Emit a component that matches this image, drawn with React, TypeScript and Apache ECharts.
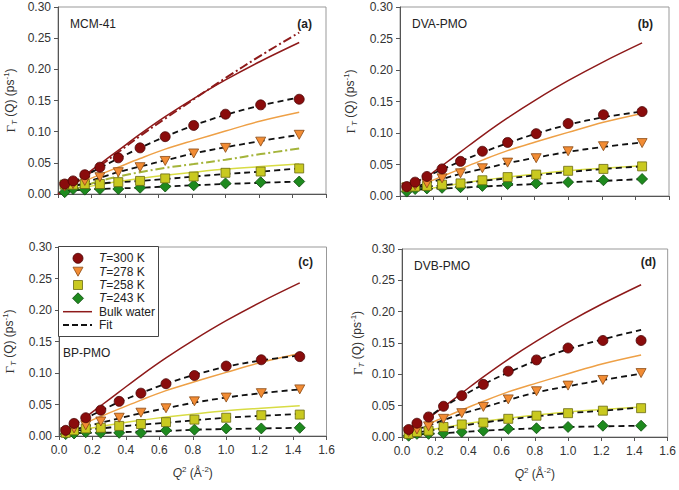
import React, { useEffect, useRef } from "react";
import * as echarts from "echarts";

// Q^2 values (Å^-2)
const Q2 = [0.04, 0.09, 0.16, 0.25, 0.36, 0.49, 0.64, 0.81, 1.0, 1.21, 1.44];
const bulkQ2 = [0.16, 0.25, 0.36, 0.49, 0.64, 0.81, 1.0, 1.21, 1.44];

// Bulk water reference curves (same in all panels)
const bulkWater300 = [0.03, 0.048, 0.07, 0.096, 0.124, 0.153, 0.183, 0.213, 0.243];
const bulkWater278 = [0.021, 0.031, 0.043, 0.057, 0.072, 0.086, 0.101, 0.117, 0.131];
const bulkWater258 = [0.011, 0.015, 0.02, 0.025, 0.03, 0.035, 0.04, 0.044, 0.048];

// Extra dash-dot curves in panel (a)
const mcmDashRedQ2 = [0.0, 0.04, 0.09, 0.16, 0.25, 0.36, 0.49, 0.64, 0.81, 1.0, 1.21, 1.44];
const mcmDashRed = [0.0, 0.006, 0.015, 0.028, 0.045, 0.067, 0.093, 0.121, 0.152, 0.186, 0.222, 0.259];
const mcmDashOliveQ2 = [0.09, 0.16, 0.25, 0.36, 0.49, 0.64, 0.81, 1.0, 1.21, 1.44];
const mcmDashOlive = [0.007, 0.013, 0.021, 0.028, 0.035, 0.042, 0.048, 0.055, 0.064, 0.073];

// Panel (a) MCM-41
const a300 = [0.016, 0.021, 0.031, 0.043, 0.058, 0.074, 0.092, 0.11, 0.128, 0.143, 0.152];
const a278 = [0.012, 0.016, 0.021, 0.027, 0.035, 0.043, 0.053, 0.065, 0.074, 0.084, 0.095];
const a258 = [0.015, 0.015, 0.016, 0.016, 0.019, 0.021, 0.025, 0.028, 0.034, 0.036, 0.041];
const a243 = [0.003, 0.008, 0.007, 0.008, 0.008, 0.01, 0.012, 0.014, 0.017, 0.019, 0.02];
const aFit300 = [0.012, 0.019, 0.029, 0.042, 0.057, 0.074, 0.092, 0.11, 0.127, 0.142, 0.155];
const aFit278 = [0.008, 0.012, 0.018, 0.026, 0.035, 0.044, 0.054, 0.065, 0.075, 0.085, 0.095];
const aFit258 = [0.013, 0.014, 0.015, 0.017, 0.019, 0.021, 0.024, 0.028, 0.032, 0.036, 0.041];
const aFit243 = [0.004, 0.006, 0.007, 0.008, 0.009, 0.01, 0.012, 0.014, 0.016, 0.018, 0.02];

// Panel (b) DVA-PMO
const b300 = [0.015, 0.022, 0.031, 0.043, 0.055, 0.071, 0.085, 0.099, 0.115, 0.129, 0.134];
const b278 = [0.013, 0.017, 0.02, 0.028, 0.036, 0.044, 0.053, 0.06, 0.071, 0.079, 0.084];
const b258 = [0.014, 0.015, 0.016, 0.018, 0.02, 0.025, 0.03, 0.034, 0.04, 0.043, 0.047];
const b243 = [0.007, 0.011, 0.012, 0.013, 0.014, 0.016, 0.019, 0.02, 0.022, 0.025, 0.027];
const bFit300 = [0.014, 0.021, 0.031, 0.042, 0.055, 0.069, 0.084, 0.099, 0.113, 0.125, 0.134];
const bFit278 = [0.012, 0.015, 0.02, 0.027, 0.035, 0.043, 0.052, 0.061, 0.07, 0.078, 0.085];
const bFit258 = [0.013, 0.014, 0.015, 0.017, 0.02, 0.024, 0.028, 0.033, 0.038, 0.043, 0.047];
const bFit243 = [0.008, 0.01, 0.011, 0.012, 0.013, 0.015, 0.017, 0.019, 0.022, 0.024, 0.027];

// Panel (c) BP-PMO
const c300 = [0.009, 0.02, 0.029, 0.041, 0.055, 0.068, 0.083, 0.096, 0.111, 0.121, 0.126];
const c278 = [0.006, 0.012, 0.017, 0.023, 0.029, 0.037, 0.044, 0.055, 0.061, 0.068, 0.074];
const c258 = [0.005, 0.009, 0.012, 0.013, 0.016, 0.019, 0.022, 0.026, 0.029, 0.033, 0.034];
const c243 = [0.003, 0.004, 0.006, 0.005, 0.005, 0.005, 0.009, 0.01, 0.012, 0.012, 0.013];
const cFit300 = [0.009, 0.018, 0.028, 0.04, 0.054, 0.068, 0.083, 0.097, 0.11, 0.12, 0.128];
const cFit278 = [0.006, 0.01, 0.015, 0.021, 0.028, 0.036, 0.044, 0.053, 0.061, 0.068, 0.074];
const cFit258 = [0.005, 0.008, 0.01, 0.012, 0.015, 0.018, 0.021, 0.025, 0.029, 0.032, 0.035];
const cFit243 = [0.003, 0.004, 0.005, 0.005, 0.006, 0.007, 0.008, 0.01, 0.011, 0.012, 0.013];

// Panel (d) DVB-PMO
const d300 = [0.012, 0.022, 0.032, 0.049, 0.066, 0.084, 0.105, 0.123, 0.142, 0.154, 0.154];
const d278 = [0.008, 0.012, 0.017, 0.029, 0.038, 0.048, 0.06, 0.073, 0.082, 0.091, 0.102];
const d258 = [0.005, 0.008, 0.01, 0.016, 0.02, 0.023, 0.029, 0.034, 0.038, 0.042, 0.046];
const d243 = [0.002, 0.005, 0.005, 0.006, 0.008, 0.01, 0.013, 0.014, 0.016, 0.018, 0.018];
const dFit300 = [0.01, 0.02, 0.032, 0.048, 0.065, 0.084, 0.103, 0.122, 0.14, 0.156, 0.171];
const dFit278 = [0.007, 0.012, 0.018, 0.027, 0.037, 0.047, 0.059, 0.071, 0.081, 0.091, 0.101];
const dFit258 = [0.005, 0.007, 0.01, 0.014, 0.018, 0.023, 0.028, 0.033, 0.038, 0.042, 0.047];
const dFit243 = [0.002, 0.004, 0.005, 0.006, 0.008, 0.01, 0.012, 0.014, 0.016, 0.017, 0.018];

const panelNames = ["MCM-41", "DVA-PMO", "BP-PMO", "DVB-PMO"];
const panelTags = ["(a)", "(b)", "(c)", "(d)"];
const tempLabels = ["T=300 K", "T=278 K", "T=258 K", "T=243 K"];
const legendLabels = [...tempLabels, "Bulk water", "Fit"];

const panelData = [
  [a300, a278, a258, a243],
  [b300, b278, b258, b243],
  [c300, c278, c258, c243],
  [d300, d278, d258, d243],
];
const panelFits = [
  [aFit300, aFit278, aFit258, aFit243],
  [bFit300, bFit278, bFit258, bFit243],
  [cFit300, cFit278, cFit258, cFit243],
  [dFit300, dFit278, dFit258, dFit243],
];

const FONT = "Liberation Sans, Arial, sans-serif";
const zip = (xs: number[], ys: number[]) => ys.map((y, i) => [xs[i], y]);

const COL = {
  c300: "#8a0c0c",
  b300: "#4a0505",
  c278: "#f28c34",
  b278: "#8a4a14",
  c258: "#c9c920",
  b258: "#6a6a12",
  c243: "#1e8a1e",
  b243: "#0c4a0c",
  bulk300: "#8e1a1a",
  bulk278: "#eea046",
  bulk258: "#d8dc44",
  olive: "#a4b43a",
};

const markerStyles = [
  { symbol: "circle", size: 10, color: COL.c300, border: COL.b300 },
  { symbol: "path://M0,0 L10,0 L5,9 Z", size: [10, 9], color: COL.c278, border: COL.b278 },
  { symbol: "rect", size: 9, color: COL.c258, border: COL.b258 },
  { symbol: "diamond", size: 11, color: COL.c243, border: COL.b243 },
];

const grids = [
  { left: 58, top: 7, width: 268, height: 187 },
  { left: 400, top: 7, width: 269, height: 189 },
  { left: 58.5, top: 247, width: 268, height: 189 },
  { left: 402, top: 249, width: 268, height: 188 },
];
const yNameGaps = [40, 42, 42, 37];

function buildOption() {
  const xAxis: any[] = [];
  const yAxis: any[] = [];
  const series: any[] = [];
  const axisRich = {
    n: { fontSize: 12, lineHeight: 16, verticalAlign: "middle", color: "#333", fontFamily: FONT },
    i: { fontSize: 12, lineHeight: 16, fontStyle: "italic", color: "#333", fontFamily: FONT },
    g: { fontSize: 13, lineHeight: 16, color: "#333", fontFamily: "Liberation Serif, serif" },
    sub: { fontSize: 8, verticalAlign: "bottom", color: "#333", fontFamily: FONT, fontStyle: "italic" },
    sup: { fontSize: 8, verticalAlign: "top", color: "#333", fontFamily: FONT },
  };
  grids.forEach((g, p) => {
    const bottomRow = p >= 2;
    xAxis.push({
      type: "value",
      gridIndex: p,
      min: 0,
      max: 1.6,
      interval: 0.2,
      axisLine: { show: true, onZero: false, lineStyle: { color: "#555", width: 1 } },
      axisTick: { show: true, inside: false, length: 4, lineStyle: { color: "#555" } },
      splitLine: { show: false },
      axisLabel: {
        show: bottomRow,
        fontSize: 12,
        fontFamily: FONT,
        color: "#333",
        margin: 8,
        formatter: (v: number) => v.toFixed(1),
      },
      name: bottomRow ? "{i|Q}{sup|2}{n| (Å}{sup|-2}{n|)}" : "",
      nameLocation: "middle",
      nameGap: 29,
      nameTextStyle: { rich: axisRich },
    });
    yAxis.push({
      type: "value",
      gridIndex: p,
      min: 0,
      max: 0.3,
      interval: 0.05,
      axisLine: { show: true, onZero: false, lineStyle: { color: "#555", width: 1 } },
      axisTick: { show: true, inside: false, length: 4, lineStyle: { color: "#555" } },
      splitLine: { show: false },
      axisLabel: {
        fontSize: 12,
        fontFamily: FONT,
        color: "#333",
        margin: 7,
        formatter: (v: number) => v.toFixed(2),
      },
      name: "{g|Γ}{sub|T}{n| (Q) (ps}{sup|-1}{n|)}",
      nameLocation: "middle",
      nameRotate: 90,
      nameGap: yNameGaps[p],
      nameTextStyle: { rich: axisRich },
    });

    const lineBase = {
      type: "line",
      xAxisIndex: p,
      yAxisIndex: p,
      smooth: 0.35,
      symbol: "none",
      silent: true,
    };
    series.push({ ...lineBase, name: `Bulk water ${p}`, data: zip(bulkQ2, bulkWater300), lineStyle: { color: COL.bulk300, width: 1.5 }, z: 2 });
    series.push({ ...lineBase, name: `bulk278-${p}`, data: zip(bulkQ2, bulkWater278), lineStyle: { color: COL.bulk278, width: 1.5 }, z: 2 });
    series.push({ ...lineBase, name: `bulk258-${p}`, data: zip(bulkQ2, bulkWater258), lineStyle: { color: COL.bulk258, width: 1.5 }, z: 2 });
    if (p === 0) {
      series.push({ ...lineBase, name: "mcm-dashdot-red", data: zip(mcmDashRedQ2, mcmDashRed), lineStyle: { color: COL.bulk300, width: 2, type: [9, 3, 2, 3] }, z: 2 });
      series.push({ ...lineBase, name: "mcm-dashdot-olive", data: zip(mcmDashOliveQ2, mcmDashOlive), lineStyle: { color: COL.olive, width: 2, type: [9, 3, 2, 3] }, z: 2 });
    }
    panelFits[p].forEach((fit, k) => {
      series.push({ ...lineBase, name: `fit-${p}-${k}`, data: zip(Q2, fit), lineStyle: { color: "#111", width: 1.8, type: [6, 4] }, z: 3 });
    });
    panelData[p].forEach((vals, k) => {
      const m = markerStyles[k];
      series.push({
        type: "scatter",
        name: `pts-${p}-${k}`,
        xAxisIndex: p,
        yAxisIndex: p,
        data: zip(Q2, vals),
        symbol: m.symbol,
        symbolSize: m.size,
        itemStyle: { color: m.color, borderColor: m.border, borderWidth: 0.8, opacity: 1 },
        z: 4 + (3 - k),
      });
    });
  });

  const labelPos = [
    { name: [70, 24], tag: [312, 24] },
    { name: [412, 24], tag: [653, 24] },
    { name: [63, 353], tag: [313, 262] },
    { name: [414, 266], tag: [656, 262] },
  ];
  const graphic: any[] = [];
  labelPos.forEach((lp, p) => {
    graphic.push({
      type: "text", x: lp.name[0], y: lp.name[1], z: 20,
      style: { text: panelNames[p], fill: "#222", font: `12px ${FONT}`, align: "left", verticalAlign: "middle" },
    });
    graphic.push({
      type: "text", x: lp.tag[0], y: lp.tag[1], z: 20,
      style: { text: panelTags[p], fill: "#222", font: `bold 12px ${FONT}`, align: "right", verticalAlign: "middle" },
    });
  });

  // Legend box (panel c)
  graphic.push({
    type: "rect", z: 30,
    shape: { x: 58.5, y: 246.5, width: 100, height: 90 },
    style: { fill: "#fff", stroke: "#444", lineWidth: 1 },
  });
  const rowY = [258.3, 271.7, 285, 298.3, 311.7, 325];
  const cx = 78;
  graphic.push({ type: "circle", z: 31, shape: { cx, cy: rowY[0], r: 5 }, style: { fill: COL.c300, stroke: COL.b300, lineWidth: 0.8 } });
  graphic.push({
    type: "polygon", z: 31,
    shape: { points: [[cx - 5, rowY[1] - 4.5], [cx + 5, rowY[1] - 4.5], [cx, rowY[1] + 4.5]] },
    style: { fill: COL.c278, stroke: COL.b278, lineWidth: 0.8 },
  });
  graphic.push({ type: "rect", z: 31, shape: { x: cx - 4.5, y: rowY[2] - 4.5, width: 9, height: 9 }, style: { fill: COL.c258, stroke: COL.b258, lineWidth: 0.8 } });
  graphic.push({
    type: "polygon", z: 31,
    shape: { points: [[cx, rowY[3] - 5.5], [cx + 5.5, rowY[3]], [cx, rowY[3] + 5.5], [cx - 5.5, rowY[3]]] },
    style: { fill: COL.c243, stroke: COL.b243, lineWidth: 0.8 },
  });
  graphic.push({ type: "line", z: 31, shape: { x1: 63, y1: rowY[4], x2: 92, y2: rowY[4] }, style: { stroke: COL.bulk300, lineWidth: 1.5 } });
  graphic.push({ type: "line", z: 31, shape: { x1: 63, y1: rowY[5], x2: 92, y2: rowY[5] }, style: { stroke: "#111", lineWidth: 1.8, lineDash: [6, 3] } });
  legendLabels.forEach((lab, i) => {
    const isT = lab.startsWith("T=");
    graphic.push({
      type: "text", z: 32, x: 99, y: rowY[i],
      style: {
        text: isT ? `{i|T}{n|${lab.slice(1)}}` : `{n|${lab}}`,
        rich: {
          i: { fontStyle: "italic", fontSize: 12, fontFamily: FONT, fill: "#222" },
          n: { fontSize: 12, fontFamily: FONT, fill: "#222" },
        },
        fill: "#222",
        font: `12px ${FONT}`,
        align: "left",
        verticalAlign: "middle",
      },
    });
  });

  return {
    animation: false,
    backgroundColor: "#fff",
    grid: grids.map((g) => ({ ...g, show: true, borderColor: "#999", borderWidth: 1, backgroundColor: "transparent" })),
    xAxis,
    yAxis,
    series,
    graphic,
  };
}

export default function App() {
  const ref = useRef<HTMLDivElement>(null);
  useEffect(() => {
    if (!ref.current) return;
    const chart = echarts.init(ref.current, null, { renderer: "svg" });
    chart.setOption(buildOption() as any);
    return () => chart.dispose();
  }, []);
  return (
    <div
      ref={ref}
      style={{ position: "fixed", left: 0, top: 0, width: 679, height: 490, background: "#fff" }}
    />
  );
}
